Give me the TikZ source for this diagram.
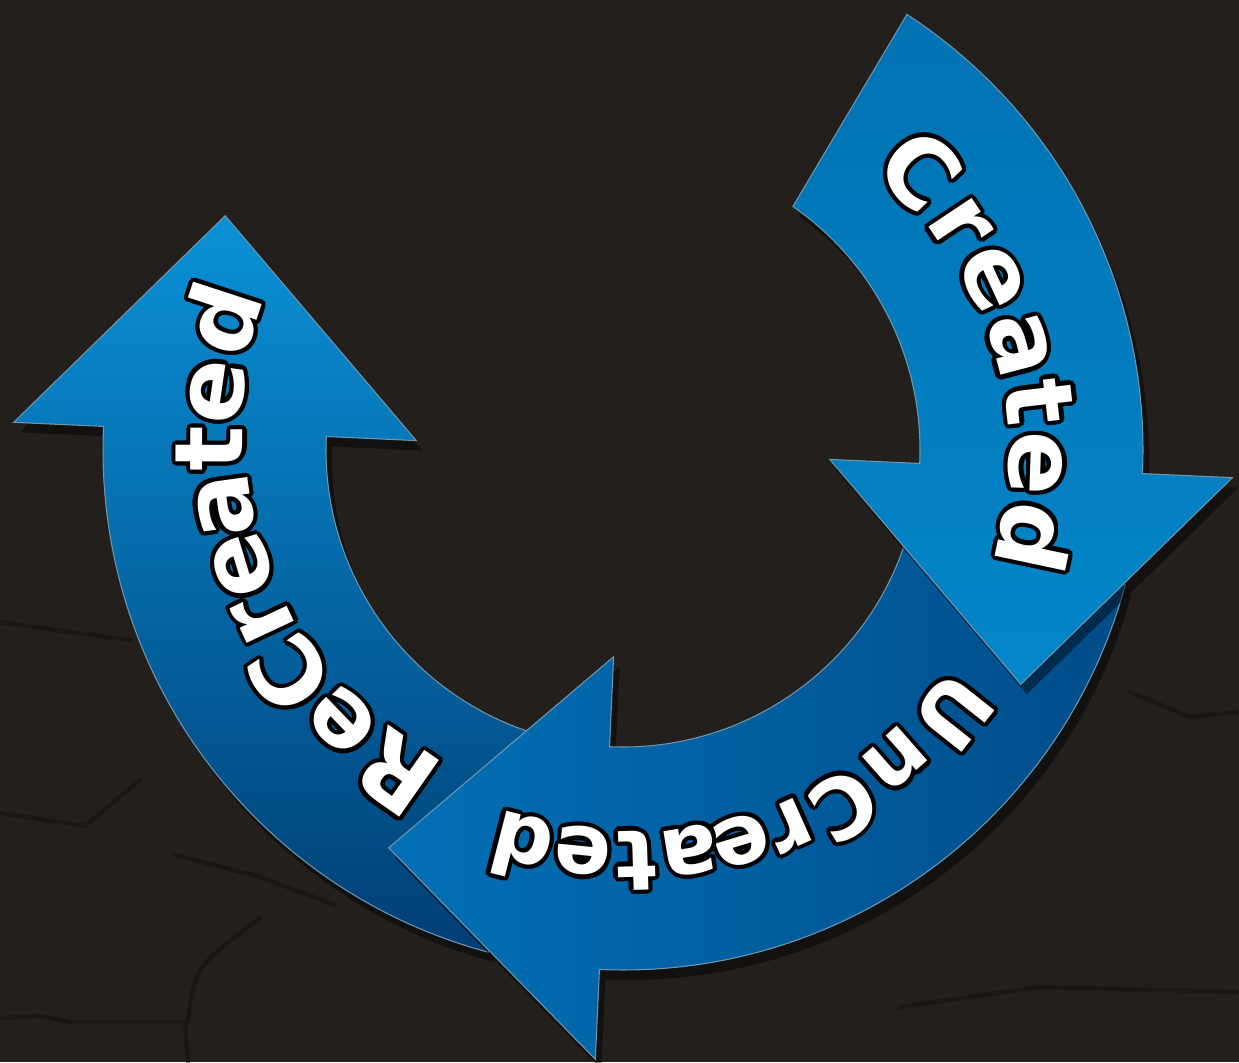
\documentclass[tikz,border=0pt]{standalone}
\usepackage{fontspec}
\setmainfont{DejaVu Sans}
\usepackage{contour}
\contourlength{1.2pt}
\usetikzlibrary{calc,shadows}
\definecolor{ground}{RGB}{35,31,28}
\definecolor{crackline}{RGB}{14,12,10}
\definecolor{edgeblue}{RGB}{110,150,175}
\definecolor{createdtop}{RGB}{0,114,178}
\definecolor{createdbottom}{RGB}{4,134,202}
\definecolor{uncreatedleft}{RGB}{3,112,182}
\definecolor{uncreatedright}{RGB}{0,76,136}
\definecolor{recreatedtop}{RGB}{10,145,215}
\definecolor{recreatedbottom}{RGB}{0,62,116}
\tikzset{
    band/.style={draw=edgeblue,line width=0.3pt,drop shadow={shadow xshift=0.06cm,shadow yshift=-0.1cm,opacity=0.45,fill=black}},
    createdband/.style={band,top color=createdtop,bottom color=createdbottom},
    uncreatedband/.style={band,left color=uncreatedleft,right color=uncreatedright},
    recreatedband/.style={band,top color=recreatedtop,bottom color=recreatedbottom},
    glyph/.style={text=white,font=\fontsize{27}{32}\selectfont\bfseries,inner sep=0pt,anchor=base,transform shape},
    smallglyph/.style={glyph,font=\fontsize{24}{29}\selectfont\bfseries},
    crack/.style={draw=crackline,line width=1.2pt,opacity=0.45,line cap=round,line join=round}
}
\begin{document}
\begin{tikzpicture}
    \useasboundingbox (0,0) rectangle (12.39,10.62);
    \fill[ground] (0,0) rectangle (12.39,10.62);
    \draw[crack] (0,0.44) -- (0.40,0.46) -- (0.70,0.40) -- (1.85,0.40) -- (1.88,0);
    \draw[crack] (1.88,0.42) .. controls (1.95,0.95) .. (2.60,1.44);
    \draw[crack] (1.75,2.07) -- (2.60,1.85) -- (3.35,1.57);
    \draw[crack] (0,2.49) -- (0.85,2.36) -- (1.40,2.82);
    \draw[crack] (0,4.40) -- (0.70,4.30) -- (1.30,4.22);
    \draw[crack] (9.00,0.55) -- (10.40,0.75) -- (12.39,0.70);
    \draw[crack] (11.30,3.70) -- (11.90,3.45) -- (12.39,3.50);
    \begin{scope}[shift={(6.23,6.12)},rotate=-2.6]
        \def\rin{2.97}
        \def\rout{5.20}
        \def\win{2.07}
        \def\wout{6.10}
        \def\rmid{4.08}
        \def\hlen{2.16}
        \path[recreatedband] (-102.4:\rout) arc[start angle=-102.4,end angle=-180,radius=\rout]
            -- (180:\wout) -- ($(180:\rmid)+(90:\hlen)$) -- (180:\win)
            -- (180:\rin) arc[start angle=-180,end angle=-102.4,radius=\rin] -- cycle;
        \path[uncreatedband] (-12.4:\rout) arc[start angle=-12.4,end angle=-90,radius=\rout]
            -- (-90:\wout) -- ($(-90:\rmid)+(180:\hlen)$) -- (-90:\win)
            -- (-90:\rin) arc[start angle=-90,end angle=-12.4,radius=\rin] -- cycle;
        \path[createdband] (59.5:\rout) arc[start angle=59.5,end angle=0,radius=\rout]
            -- (0:\wout) -- ($(0:\rmid)+(-90:\hlen)$) -- (0:\win)
            -- (0:\rin) arc[start angle=0,end angle=57.7,radius=\rin] -- cycle;
        \foreach \ch/\a/\r [count=\i] in {C/45.9/3.74,r/36.3/3.78,e/27.5/3.81,a/17.4/3.84,t/9.2/3.86,e/0.7/3.87,d/-9.4/3.86}
            \node[glyph,rotate=\a-90] (cre-\i) at (\a:\r) {\contour{black}{\ch}};
        \foreach \ch/\a/\r [count=\i] in {U/-35.8/3.92,n/-46/3.89,C/-55.5/3.88,r/-63.4/3.87,e/-70.6/3.85,a/-78/3.83,t/-85.6/3.81,e/-93.1/3.80,d/-101.8/3.79}
            \node[smallglyph,rotate=\a-90] (unc-\i) at (\a:\r) {\contour{black}{\ch}};
        \foreach \ch/\a/\r [count=\i] in {R/-122.4/3.60,e/-133.4/3.64,C/-143.5/3.67,r/-152.3/3.70,e/-160.5/3.72,a/-169.5/3.76,t/-177.6/3.80,e/-185.6/3.84,d/-195.5/3.88}
            \node[glyph,rotate=\a-90] (rec-\i) at (\a:\r) {\contour{black}{\ch}};
    \end{scope}
\end{tikzpicture}
\end{document}
